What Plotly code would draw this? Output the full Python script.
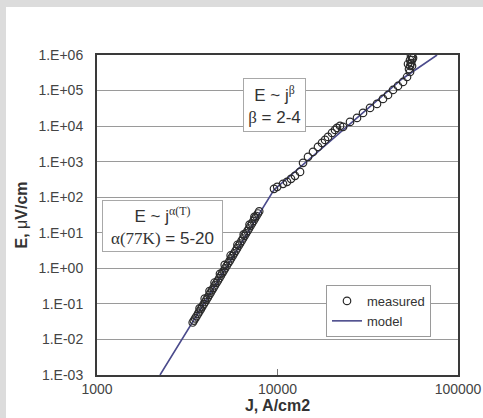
import plotly.graph_objects as go

# ---- data ----
meas_J = [3390, 3440, 3500, 3560, 3630, 3690, 3760, 3830, 3900, 3970, 4040, 4110, 4190, 4260,
          4340, 4420, 4500, 4590, 4670, 4760, 4850, 4940, 5030, 5130, 5230, 5330, 5430, 5530,
          5640, 5750, 5860, 5970, 6090, 6200, 6320, 6440, 6570, 6690, 6820, 6950, 7080, 7220,
          7360, 7500, 7640, 7790, 7920,
          3700, 3950, 4200, 4480, 4800, 5100, 5500, 6000, 6500, 7000, 7450,
          9563, 9961, 10730, 11290, 11880, 12500, 13330, 13850, 14760, 15730, 16760, 17640,
          18340, 19050, 20040, 20830, 21360, 22200, 23070, 25220, 27570, 29770, 32550, 35580,
          38420, 40950, 43640, 46510, 49580, 52190, 54220,
          53530, 54220, 54910, 55620, 55620, 54910, 56330, 52850, 55620, 54220]
meas_E = [0.030, 0.034, 0.039, 0.045, 0.053, 0.061, 0.071, 0.084, 0.098, 0.113, 0.132, 0.152,
          0.18, 0.207, 0.242, 0.283, 0.33, 0.39, 0.45, 0.53, 0.62, 0.73, 0.85, 1.0, 1.18, 1.39,
          1.62, 1.9, 2.24, 2.64, 3.1, 3.64, 4.31, 5.0, 5.9, 6.9, 8.2, 9.6, 11.3, 13.2, 15.5,
          18.3, 21.6, 25.3, 29.6, 34.9, 40.2,
          0.075, 0.14, 0.23, 0.40, 0.70, 1.25, 2.3, 4.6, 9.0, 17.0, 28.0,
          172, 196, 238, 271, 329, 399, 516, 925, 1365, 1885, 2605, 3375,
          4095, 4975, 6445, 7820, 8900, 10130, 9510, 13120, 16980, 23500, 32450, 42050,
          58080, 75200, 103900, 134600, 174500, 241000, 332500,
          404500, 491000, 595000, 724000, 879000, 937000, 824000, 558000, 491000, 724000]

model_J = [2234, 8859, 9563, 10590, 22200, 48960, 76560]
model_E = [0.001, 84.5, 161.6, 253.6, 6445, 211800, 1000000]

y_ticks = [1e-3, 1e-2, 1e-1, 1e0, 1e1, 1e2, 1e3, 1e4, 1e5, 1e6]
y_labels = ["1.E-03", "1.E-02", "1.E-01", "1.E+00", "1.E+01", "1.E+02",
            "1.E+03", "1.E+04", "1.E+05", "1.E+06"]
x_ticks = [1000, 10000, 100000]
x_labels = ["1000", "10000", "100000"]

W, H = 483, 418
L, R, T, B = 97, 25, 55, 43
pw, ph = W - L - R, H - T - B


def px(x):
    return (x - L) / pw


def py(y):
    return (H - B - y) / ph


fig = go.Figure()
fig.add_trace(go.Scatter(
    x=model_J, y=model_E, mode="lines", name="model",
    line=dict(color="#4b4b8c", width=1.6), legendrank=2))
fig.add_trace(go.Scatter(
    x=meas_J, y=meas_E, mode="markers", name="measured",
    marker=dict(symbol="circle-open", size=7.5, color="#2a2a2a", line=dict(width=1.2)),
    legendrank=1))

TXT = "#333333"
SERIF = "Liberation Serif"

fig.update_layout(
    width=W, height=H,
    margin=dict(l=L, r=R, t=T, b=B),
    paper_bgcolor="white", plot_bgcolor="white",
    font=dict(family="Liberation Sans, Arial, sans-serif", color=TXT, size=13),
    showlegend=True,
    legend=dict(x=px(431), xanchor="right", y=py(285), yanchor="top",
                bgcolor="white", bordercolor="#9a9a9a", borderwidth=1,
                font=dict(size=13, color=TXT), tracegroupgap=0, itemwidth=30),
    xaxis=dict(type="log", range=[3, 5], tickvals=x_ticks, ticktext=x_labels,
               automargin=False,
               showgrid=False, zeroline=False, ticks="inside", ticklen=6,
               tickcolor="#777", showline=True, linecolor="#3a3a3a", linewidth=2,
               mirror=True, tickfont=dict(size=14, color="#444"), ticklabelstandoff=0,
               title=dict(text="<b>J, A/cm2</b>", font=dict(size=16, color=TXT), standoff=2)),
    yaxis=dict(type="log", range=[-3, 6], tickvals=y_ticks, ticktext=y_labels,
               automargin=False,
               showgrid=True, gridcolor="#9a9a9a", gridwidth=1, zeroline=False,
               ticks="", showline=True, linecolor="#3a3a3a", linewidth=2, mirror=True,
               tickfont=dict(size=14, color="#444"), ticklabelstandoff=9,
               title=dict(text="<b>E, </b>μ<b>V/cm</b>", font=dict(size=16, color=TXT),
                          standoff=7)),
    shapes=[
        dict(type="rect", xref="paper", yref="paper", x0=px(0), x1=px(6), y0=py(H), y1=py(0),
             fillcolor="#dcdcdc", line=dict(width=0), layer="above"),
        dict(type="rect", xref="paper", yref="paper", x0=px(0), x1=px(W), y0=py(7), y1=py(0),
             fillcolor="#dcdcdc", line=dict(width=0), layer="above"),
    ],
    annotations=[
        dict(xref="paper", yref="paper", x=px(274.5), y=py(105), xanchor="center", yanchor="middle",
             showarrow=False, align="center", width=61, height=52, borderpad=0,
             bgcolor="white", bordercolor="#a8a8a8", borderwidth=1,
             font=dict(size=17, color=TXT),
             text=(f"E ~ j<sup><span style='font-family:{SERIF}'>β</span></sup><br>"
                   f"<span style='font-family:{SERIF}'>β</span> = 2-4")),
        dict(xref="paper", yref="paper", x=px(162.5), y=py(226), xanchor="center", yanchor="middle",
             showarrow=False, align="center", width=119, height=50, borderpad=0,
             bgcolor="white", bordercolor="#a8a8a8", borderwidth=1,
             font=dict(size=17, color=TXT),
             text=(f"E ~ j<sup><span style='font-family:{SERIF}'>α(T)</span></sup><br>"
                   f"<span style='font-family:{SERIF}'>α(77K)</span> = 5-20")),
    ],
)

fig.write_html("out.html", config={"displayModeBar": False},
               post_script=("document.body.style.margin='0';"
                            "document.body.style.overflow='hidden';"
                            "document.documentElement.style.overflow='hidden';"))
